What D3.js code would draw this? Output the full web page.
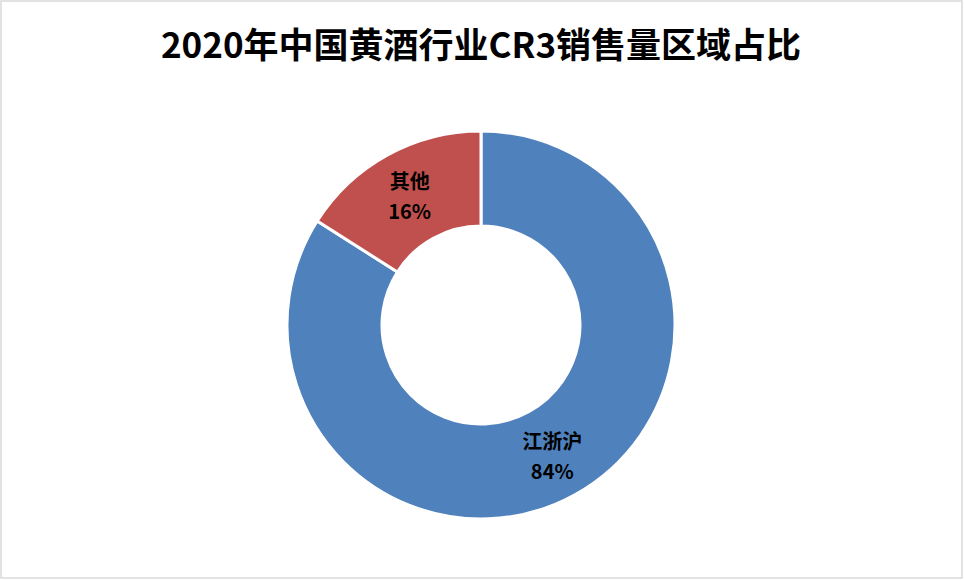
<!DOCTYPE html>
<meta charset="utf-8">
<script src="https://d3js.org/d3.v7.min.js"></script>
<style>body{margin:0;background:#fff}</style>
<div id="chart"></div>
<script>
// data
const regions = ["江浙沪", "其他"];
const shares = [84, 16];
const colors = ["#4F81BD", "#C0504D"];

const width = 964, height = 580;
const svg = d3.select("#chart").append("svg")
  .attr("width", width).attr("height", height);

// outer frame
svg.append("rect").attr("x", 1).attr("y", 1).attr("width", width - 3).attr("height", height - 3)
  .attr("fill", "#fff").attr("stroke", "#d9d9d9").attr("stroke-width", 1.5);

svg.append("text").attr("x", 481).attr("y", 58).attr("text-anchor", "middle")
  .style("font-family", "'Noto Sans CJK SC', sans-serif").style("font-weight", "bold")
  .style("font-size", "35px").text("2020年中国黄酒行业CR3销售量区域占比");

const cx = 481, cy = 325, rOut = 194, rIn = 99;
const g = svg.append("g").attr("transform", `translate(${cx},${cy})`);

const pie = d3.pie().sort(null).value(d => d.v);
const arcs = pie(regions.map((r, i) => ({r, v: shares[i], c: colors[i]})));
const arc = d3.arc().innerRadius(rIn).outerRadius(rOut);

g.selectAll("path").data(arcs).join("path")
  .attr("d", arc).attr("fill", d => d.data.c)
  .attr("stroke", "#fff").attr("stroke-width", 3);

// labels along each slice at a mid radius
const labelArc = d3.arc().innerRadius(148).outerRadius(148);
const lab = g.selectAll("g.lab").data(arcs).join("g").attr("class", "lab")
  .attr("transform", d => `translate(${labelArc.centroid(d)})`);
lab.append("text").attr("text-anchor", "middle").attr("y", -6)
  .style("font-family", "'Noto Sans CJK SC', sans-serif").style("font-weight", "bold")
  .style("font-size", "20px").text(d => d.data.r);
lab.append("text").attr("text-anchor", "middle").attr("y", 24)
  .style("font-family", "'Noto Sans CJK SC', sans-serif").style("font-weight", "bold")
  .style("font-size", "20px").text(d => d.data.v + "%");
</script>
